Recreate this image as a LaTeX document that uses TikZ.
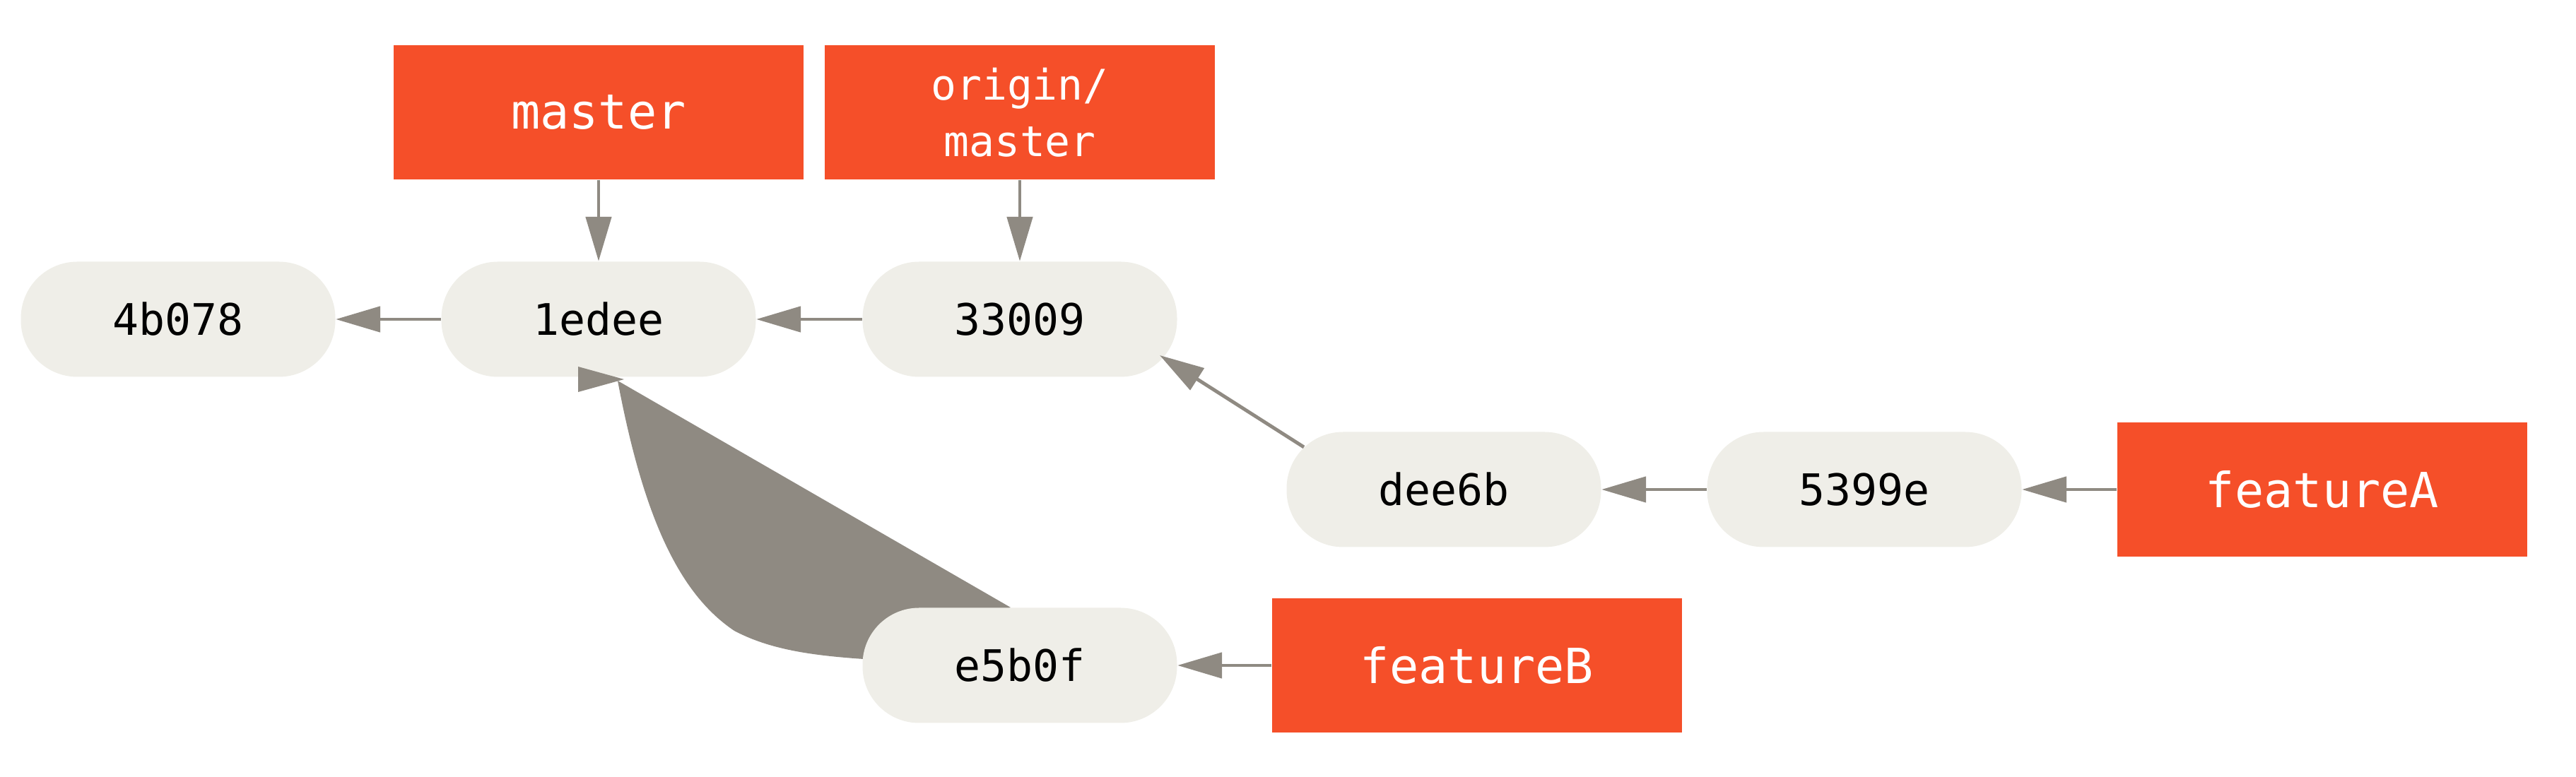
\documentclass[tikz,border=0pt]{standalone}
\usepackage{fontspec}
\setmonofont{DejaVu Sans Mono}
\usepackage{xcolor}
\usetikzlibrary{arrows.meta, positioning, backgrounds}

\definecolor{branchred}{HTML}{F54F29}
\definecolor{commitbg}{HTML}{EFEEE8}
\definecolor{arrowgray}{HTML}{8F8A82}

\tikzset{
  commit/.style={fill=commitbg, rounded corners=0.8cm, minimum width=4.45cm,
    minimum height=1.63cm, inner sep=0pt, text=black,
    font=\ttfamily\fontsize{17.5}{21}\selectfont},
  branch/.style={fill=branchred, minimum width=5.8cm, minimum height=1.9cm,
    inner sep=0pt, text=white, align=center,
    font=\ttfamily\fontsize{19.5}{23}\selectfont},
  parent/.style={arrowgray, line width=1.4pt, -{Triangle[length=6.3mm, width=3.6mm]}}
}

\begin{document}
\begin{tikzpicture}[on grid]
      \useasboundingbox (0,0) rectangle (36.45,11);

      % commits
      \node[commit] (4b078) at (2.52,6.48)          {4b078};
      \node[commit] (1edee) [right=5.95cm of 4b078] {1edee};
      \node[commit] (33009) [right=5.96cm of 1edee] {33009};
      \node[commit] (dee6b) [below right=2.41cm and 6cm of 33009] {dee6b};
      \node[commit] (5399e) [right=5.95cm of dee6b] {5399e};
      \node[commit] (e5b0f) [below=4.9cm of 33009]  {e5b0f};

      % branches
      \node[branch] (master)   [above=2.93cm of 1edee] {master};
      \node[branch, minimum width=5.52cm, font=\ttfamily\fontsize{17}{22.8}\selectfont]
                    (origin)   [above=2.93cm of 33009] {origin/\\master};
      \node[branch] (featureA) [right=6.48cm of 5399e] {featureA};
      \node[branch] (featureB) [right=6.47cm of e5b0f] {featureB};

      \coordinate (deeout) at ([shift={(-1.98,0.6)}]dee6b.center);
      \coordinate (deein)  at ([shift={(1.98,-0.51)}]33009.center);

      \draw[parent] (1edee) -- (4b078);
      \draw[parent] (33009) -- (1edee);
      \draw[parent] (master) -- (1edee);
      \draw[parent] (origin) -- (33009);
      \draw[parent] (deeout) -- (deein);
      \draw[parent] (5399e) -- (dee6b);
      \draw[parent] (featureA) -- (5399e);
      \draw[parent] (featureB) -- (e5b0f);

      % e5b0f -> 1edee
      \coordinate (etop)   at ([shift={(0.27,-0.87)}]1edee.center);
      \coordinate (ebend)  at ([shift={(1.92,-4.41)}]1edee.center);
      \coordinate (eleft)  at ([shift={(-2.21,0.09)}]e5b0f.center);
      \coordinate (eright) at ([shift={(-0.13,0.82)}]e5b0f.center);
      \begin{scope}[on background layer]
        \fill[arrowgray] (etop)
          .. controls ([shift={(0.63,-2.78)}]1edee.center)
          and ([shift={(1.13,-3.88)}]1edee.center) .. (ebend)
          .. controls ([shift={(-3.53,0.22)}]e5b0f.center)
          and ([shift={(-2.93,0.14)}]e5b0f.center) .. (eleft)
          -- (eright) -- cycle;
      \end{scope}
      \fill[arrowgray] ([shift={(-0.29,-0.67)}]1edee.center)
        -- ([shift={(-0.29,-1.03)}]1edee.center)
        -- ([shift={(0.36,-0.85)}]1edee.center) -- cycle;
\end{tikzpicture}
\end{document}
